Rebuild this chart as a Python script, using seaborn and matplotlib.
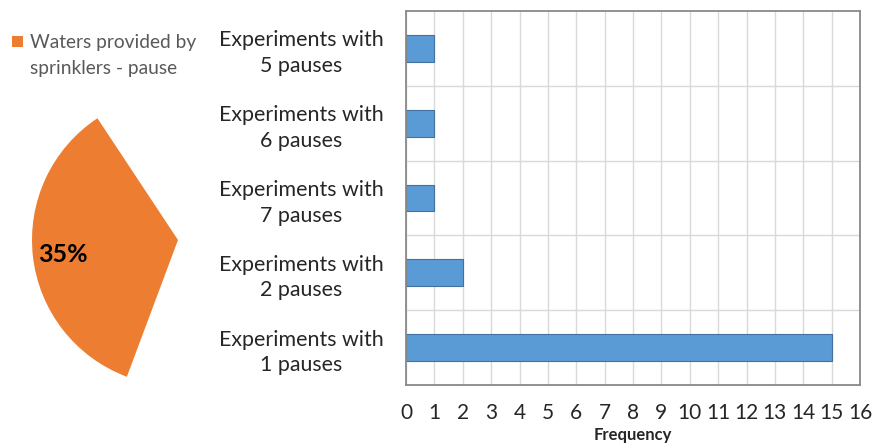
import matplotlib
matplotlib.use("Agg")
import matplotlib.pyplot as plt
import matplotlib.patches as mpatches
import seaborn as sns
import pandas as pd
import numpy as np

# ---- data ----
categories = ["Experiments with\n5 pauses", "Experiments with\n6 pauses",
              "Experiments with\n7 pauses", "Experiments with\n2 pauses",
              "Experiments with\n1 pauses"]
frequencies = [1, 1, 1, 2, 15]
x_ticks = list(range(0, 17))

pie_labels = ["Waters provided by\nsprinklers - pause", "other"]
pie_values = [35, 65]

sns.set_theme(style="white")
plt.rcParams["font.family"] = ["Lato", "DejaVu Sans"]

fig = plt.figure(figsize=(8.72, 4.44), dpi=100)

# ---- pie (only the 35% slice visible) ----
pax = fig.add_axes([32/872, 1-386/444, 292/872, 292/444], zorder=0)
wedges, _ = pax.pie(pie_values, colors=["#ED7D31", "none"], startangle=123.5,
                    counterclock=True, radius=1.0,
                    wedgeprops=dict(linewidth=0))
pax.set_xlim(-1, 1)
pax.set_ylim(-1, 1)
pax.set_aspect("equal")
pax.axis("off")
pax.text(-0.79, -0.10, f"{pie_values[0]}%", ha="center", va="center",
         fontsize=18, fontweight="bold", color="black")

# legend (manual: square aligned with first text line)
fig.patches.append(mpatches.Rectangle((12/872, 1-47/444), 11/872, 11/444,
                                      transform=fig.transFigure,
                                      facecolor="#ED7D31", edgecolor="none"))
fig.text(30/872, 1-34/444, pie_labels[0], ha="left", va="top",
         fontsize=13.8, color="#595959", linespacing=1.65,
         transform=fig.transFigure)

# ---- bar chart ----
ax = fig.add_axes([406/872, 1-385/444, 454/872, 374/444], zorder=1)
ax.patch.set_alpha(0)
df = pd.DataFrame({"category": categories, "frequency": frequencies})
sns.barplot(data=df, y="category", x="frequency", order=categories,
            orient="h", color="#5B9BD5", saturation=1, width=0.36,
            edgecolor="#41719C", linewidth=0.8, ax=ax)
ax.set_xlim(0, 16)
ax.set_ylim(4.5, -0.5)
ax.set_xticks(x_ticks)
ax.set_yticks(range(len(categories)))
ax.set_yticks(np.arange(0.5, len(categories) - 0.5, 1), minor=True)
ax.grid(True, axis="x", which="major", color="#D9D9D9", linewidth=1)
ax.grid(True, axis="y", which="minor", color="#D9D9D9", linewidth=1)
ax.grid(False, axis="y", which="major")
ax.set_axisbelow(True)
ax.tick_params(axis="both", which="both", length=0)
ax.tick_params(axis="x", pad=13, labelsize=15)
ax.tick_params(axis="y", pad=16, labelsize=15.4)
for lbl in ax.get_yticklabels():
    lbl.set_multialignment("center")
    lbl.set_linespacing(1.35)
    lbl.set_va("center_baseline")
ax.set_ylabel("")
ax.set_xlabel("Frequency", fontsize=12, fontweight="bold", labelpad=3)
for s in ax.spines.values():
    s.set_visible(True)
    s.set_color("#898989")
    s.set_linewidth(1.3)

fig.savefig("out.png", dpi=100)
